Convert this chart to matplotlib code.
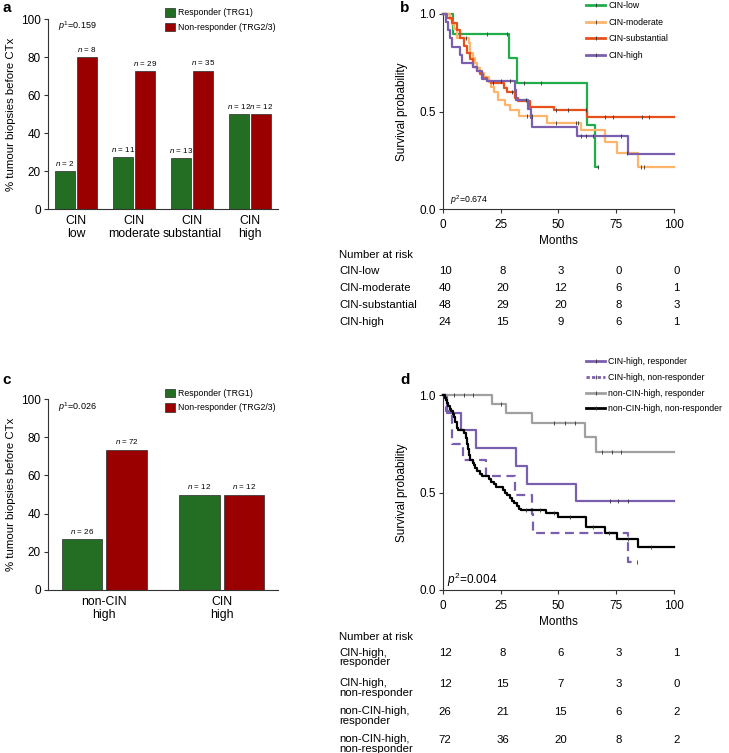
import matplotlib
matplotlib.use('Agg')
import matplotlib.pyplot as plt
import numpy as np
from matplotlib.lines import Line2D
from matplotlib.patches import Patch
import matplotlib.transforms as mtransforms

plt.rcParams['font.family'] = ['Liberation Sans', 'DejaVu Sans']
plt.rcParams['mathtext.fontset'] = 'custom'
plt.rcParams['mathtext.rm'] = 'Liberation Sans'
plt.rcParams['mathtext.it'] = 'Liberation Sans:italic'
plt.rcParams['axes.linewidth'] = 0.8
plt.rcParams['axes.edgecolor'] = '#333333'
plt.rcParams['xtick.color'] = '#333333'
plt.rcParams['ytick.color'] = '#333333'
plt.rcParams['xtick.labelcolor'] = 'black'
plt.rcParams['ytick.labelcolor'] = 'black'

# ---------------- data ----------------
# panel a
cats_a = ['CIN\nlow', 'CIN\nmoderate', 'CIN\nsubstantial', 'CIN\nhigh']
resp_a = [20.0, 27.5, 27.1, 50.0]
nonresp_a = [80.0, 72.5, 72.9, 50.0]
n_resp_a = [2, 11, 13, 12]
n_nonresp_a = [8, 29, 35, 12]
p_a = '0.159'

# panel c
cats_c = ['non-CIN\nhigh', 'CIN\nhigh']
resp_c = [26.5, 50.0]
nonresp_c = [73.5, 50.0]
n_resp_c = [26, 12]
n_nonresp_c = [72, 12]
p_c = '0.026'

bar_labels = ['Responder (TRG1)', 'Non-responder (TRG2/3)']

# panel b: Kaplan-Meier steps (time in months, survival)
b_names = ['CIN-low', 'CIN-moderate', 'CIN-substantial', 'CIN-high']
b_low_t = [0, 4.3, 28.8, 32.3, 62.2, 66.0, 67.3]
b_low_s = [1.0, 0.90, 0.773, 0.648, 0.431, 0.217, 0.217]
b_low_c = [19.3, 28.0, 35.3, 42.4, 67.3]

b_mod_t = [0, 3, 4, 5, 6, 11.5, 12, 13, 14, 15, 16, 18, 20, 21, 22, 24, 27, 29, 33, 45, 60, 70, 75.5, 84.5, 100]
b_mod_s = [1.0, 0.975, 0.95, 0.925, 0.875, 0.85, 0.80, 0.775, 0.75, 0.725, 0.70, 0.675, 0.65, 0.625, 0.60,
           0.56, 0.533, 0.51, 0.477, 0.443, 0.405, 0.345, 0.286, 0.217, 0.217]
b_mod_c = [10, 36.6, 38.5, 49, 57.6, 58.6, 79.5, 85.6, 87.2]

b_sub_t = [0, 2, 4, 6, 7.5, 9, 10.4, 11.8, 13.3, 14.7, 16, 17.6, 19, 21, 26.5, 27.7, 31.3, 32.7, 37.8, 48.3, 62.2, 100]
b_sub_s = [1.0, 0.98, 0.955, 0.92, 0.875, 0.835, 0.80, 0.77, 0.73, 0.71, 0.69, 0.67, 0.655, 0.645, 0.62, 0.60,
           0.568, 0.554, 0.525, 0.51, 0.47, 0.47]
b_sub_c = [21.6, 30, 49, 54, 62, 70, 73.8, 86, 89]

b_high_t = [0, 1.5, 2.5, 3, 4, 7.5, 8.5, 13, 15, 17, 19, 31.3, 31.8, 37, 38.3, 38.7, 58, 80.3, 100]
b_high_s = [1.0, 0.958, 0.917, 0.875, 0.833, 0.792, 0.75, 0.73, 0.708, 0.667, 0.655, 0.61, 0.56, 0.511, 0.465,
            0.42, 0.374, 0.282, 0.282]
b_high_c = [25, 29, 36, 60, 62, 65, 77]

b_p = '0.674'
risk_b = [[10, 8, 3, 0, 0],
          [40, 20, 12, 6, 1],
          [48, 29, 20, 8, 3],
          [24, 15, 9, 6, 1]]

# panel d
d_names = ['CIN-high, responder', 'CIN-high, non-responder',
           'non-CIN-high, responder', 'non-CIN-high, non-responder']
d_hr_t = [0, 2, 8, 14.5, 31.5, 36.5, 57.5, 100]
d_hr_s = [1.0, 0.909, 0.818, 0.727, 0.636, 0.545, 0.455, 0.455]
d_hr_c = [72.3, 75.9, 80]

d_hn_t = [0, 1.5, 4, 8.6, 18.7, 31.3, 38.5, 39.2, 80.3, 83.9]
d_hn_s = [1.0, 0.917, 0.75, 0.667, 0.583, 0.486, 0.389, 0.292, 0.146, 0.146]
d_hn_c = [83.9]

d_nr_t = [0, 21.2, 27.4, 38.5, 61.5, 66.1, 100]
d_nr_s = [1.0, 0.954, 0.906, 0.858, 0.786, 0.709, 0.709]
d_nr_c = [5, 9, 13, 25, 48, 53, 57, 69, 73, 77]

d_nn_t = [0, 1, 1.5, 2, 2.5, 3, 3.5, 4.5, 5, 5.5, 6, 6.5, 9, 10, 10.5, 11, 11.5, 12, 13, 13.5, 14, 15, 16, 17,
          20, 21, 22, 23, 26, 27, 28, 29, 30, 31, 32, 33, 34, 44.5, 50, 62, 70, 75.5, 84.6, 100]
d_nn_s = [1.0, 0.986, 0.972, 0.958, 0.944, 0.93, 0.917, 0.903, 0.889, 0.861, 0.833, 0.819, 0.806, 0.778, 0.75,
          0.722, 0.694, 0.667, 0.653, 0.639, 0.625, 0.611, 0.597, 0.583, 0.569, 0.556, 0.542, 0.528, 0.514,
          0.50, 0.486, 0.472, 0.458, 0.444, 0.431, 0.417, 0.41, 0.393, 0.376, 0.325, 0.294, 0.26, 0.222, 0.222]
d_nn_c = [36, 42, 48, 55, 65, 72, 80, 90]

d_p = '0.004'
risk_d = [[12, 8, 6, 3, 1],
          [12, 15, 7, 3, 0],
          [26, 21, 15, 6, 2],
          [72, 36, 20, 8, 2]]
risk_labels_d = ['CIN-high,\nresponder', 'CIN-high,\nnon-responder',
                 'non-CIN-high,\nresponder', 'non-CIN-high,\nnon-responder']
risk_times = [0, 25, 50, 75, 100]

# ---------------- styling ----------------
GREEN = '#236e23'
RED = '#9a0000'
W, H = 729, 753

fig = plt.figure(figsize=(W / 100, H / 100), dpi=100)


def axes_px(left, top, right, bottom):
    return fig.add_axes([left / W, 1 - bottom / H, (right - left) / W, (bottom - top) / H])


def fig_xy(px, py):
    return px / W, 1 - py / H


def bar_panel(ax, cats, resp, nonresp, nresp, nnon, pval, width, ptext_xy, leg_xy):
    x = np.arange(len(cats))
    off = 0.19
    b1 = ax.bar(x - off, resp, width, color=GREEN, edgecolor='#2a2a2a', linewidth=0.5)
    b2 = ax.bar(x + off, nonresp, width, color=RED, edgecolor='#2a2a2a', linewidth=0.5)
    for bars, ns in ((b1, nresp), (b2, nnon)):
        for rect, n in zip(bars, ns):
            ax.annotate(r'$\mathit{n}$ = %d' % n, (rect.get_x() + rect.get_width() / 2, rect.get_height()),
                        xytext=(0, 5.5), textcoords='offset points', ha='center', va='center', fontsize=5.8)
    ax.set_xticks(x)
    ax.set_xticklabels(cats, fontsize=8.8, linespacing=1.15)
    ax.set_xlim(-0.48, len(cats) - 0.52)
    ax.set_ylim(0, 100)
    ax.set_yticks([0, 20, 40, 60, 80, 100])
    ax.tick_params(axis='y', labelsize=8.5, length=3, width=0.8, pad=2)
    ax.tick_params(axis='x', length=0, pad=4)
    for s in ('top', 'right'):
        ax.spines[s].set_visible(False)
    ax.set_ylabel('% tumour biopsies before CTx', fontsize=8.2, labelpad=4)
    fig.text(*fig_xy(*ptext_xy), r'$\mathit{p}^{1}$=' + pval, fontsize=6.5, ha='left', va='center')
    handles = [Patch(facecolor=GREEN, edgecolor='#2a2a2a', linewidth=0.5),
               Patch(facecolor=RED, edgecolor='#2a2a2a', linewidth=0.5)]
    fig.legend(handles, bar_labels, loc='upper left', bbox_to_anchor=fig_xy(*leg_xy), frameon=False,
               fontsize=6.3, handlelength=1.1, handleheight=1.15, handletextpad=0.4, labelspacing=0.6,
               borderpad=0, borderaxespad=0)


def step_y(t, s, tc):
    idx = np.searchsorted(np.asarray(t), tc, side='right') - 1
    return np.asarray(s)[idx]


def km_curve(ax, t, s, cens, color, ls='-', lw=1.6):
    ax.step(t, s, where='post', color=color, lw=lw, ls=ls, clip_on=False, zorder=3)
    cy = step_y(t, s, np.asarray(cens))
    ax.plot(cens, cy, ls='none', marker='|', ms=2.4, mew=0.6, color='#333333', clip_on=False, zorder=4)


def km_axes(ax, pval, pfs, p_xy):
    ax.set_xlim(0, 100)
    ax.set_ylim(0, 1.0)
    ax.set_xticks([0, 25, 50, 75, 100])
    ax.set_yticks([0.0, 0.5, 1.0])
    ax.set_yticklabels(['0.0', '0.5', '1.0'])
    ax.tick_params(labelsize=8.5, length=3, width=0.8, pad=2)
    ax.tick_params(axis='x', pad=4)
    for s in ('top', 'right'):
        ax.spines[s].set_visible(False)
    ax.set_xlabel('Months', fontsize=8.5, labelpad=3)
    ax.set_ylabel('Survival probability', fontsize=8.5, labelpad=8)
    fig.text(*fig_xy(*p_xy), r'$\mathit{p}^{2}$=' + pval, fontsize=pfs, ha='left', va='center')


def risk_table(ax, rows, labels, title_y, row_ys, two_line=False):
    tr = mtransforms.blended_transform_factory(ax.transData, fig.transFigure)
    fig.text(339 / W, 1 - title_y / H, 'Number at risk', fontsize=8.2, ha='left', va='center')
    for vals, lab, ry in zip(rows, labels, row_ys):
        if two_line:
            fig.text(339 / W, 1 - (ry - 5.5) / H, lab, fontsize=8.2, ha='left', va='top', linespacing=0.95)
        else:
            fig.text(339 / W, 1 - ry / H, lab, fontsize=8.2, ha='left', va='center')
        for tt, v in zip(risk_times, vals):
            ax.text(tt + 1.0, 1 - ry / H, str(v), transform=tr, fontsize=8.2, ha='center', va='center')


# ---------------- panel a ----------------
ax_a = axes_px(48, 19, 278, 209.3)
bar_panel(ax_a, cats_a, resp_a, nonresp_a, n_resp_a, n_nonresp_a, p_a, 0.355, (58, 26), (165, 8))

# ---------------- panel c ----------------
ax_c = axes_px(48, 399, 278, 590)
bar_panel(ax_c, cats_c, resp_c, nonresp_c, n_resp_c, n_nonresp_c, p_c, 0.345, (58, 407), (165, 388.5))

# ---------------- panel b ----------------
ax_b = axes_px(442.7, 14, 674, 209)
b_colors = ['#1fae4b', '#fdb56b', '#e8501a', '#7b5faf']
km_curve(ax_b, b_low_t, b_low_s, b_low_c, b_colors[0])
km_curve(ax_b, b_mod_t, b_mod_s, b_mod_c, b_colors[1])
km_curve(ax_b, b_sub_t, b_sub_s, b_sub_c, b_colors[2])
km_curve(ax_b, b_high_t, b_high_s, b_high_c, b_colors[3])
km_axes(ax_b, b_p, 6.3, (450, 200))
hb = [Line2D([], [], color=c, lw=2, marker='|', ms=2.4, mec='#333333', mew=0.6) for c in b_colors]
fig.legend(hb, b_names, loc='upper left', bbox_to_anchor=fig_xy(586, 1.5), frameon=False, fontsize=6.3,
           handlelength=2.2, handletextpad=0.35, labelspacing=0.85, borderpad=0, borderaxespad=0)
risk_table(ax_b, risk_b, b_names, 255, [271, 288, 305, 322])

# ---------------- panel d ----------------
ax_d = axes_px(442.7, 395, 674, 590)
d_colors = ['#7b5faf', '#7b5faf', '#a0a0a0', '#000000']
km_curve(ax_d, d_hr_t, d_hr_s, d_hr_c, d_colors[0])
km_curve(ax_d, d_hn_t, d_hn_s, d_hn_c, d_colors[1], ls=(0, (4, 2.5)))
km_curve(ax_d, d_nr_t, d_nr_s, d_nr_c, d_colors[2])
km_curve(ax_d, d_nn_t, d_nn_s, d_nn_c, d_colors[3])
km_axes(ax_d, d_p, 8.5, (447, 580))
hd = [Line2D([], [], color=c, lw=2, ls=l, marker='|', ms=2.4, mec='#333333', mew=0.6)
      for c, l in zip(d_colors, ['-', (0, (1.2, 0.8)), '-', '-'])]
fig.legend(hd, d_names, loc='upper left', bbox_to_anchor=fig_xy(586, 357), frameon=False, fontsize=6.3,
           handlelength=2.2, handletextpad=0.35, labelspacing=0.78, borderpad=0, borderaxespad=0)
risk_table(ax_d, risk_d, risk_labels_d, 637, [653, 684, 712, 740], two_line=True)

# panel letters
for letter, (px, py) in zip('abcd', [(7, 8), (405, 8), (7, 380), (405, 380)]):
    fig.text(*fig_xy(px, py), letter, fontsize=11, fontweight='bold', ha='center', va='center')

fig.savefig('out.png', dpi=100)
